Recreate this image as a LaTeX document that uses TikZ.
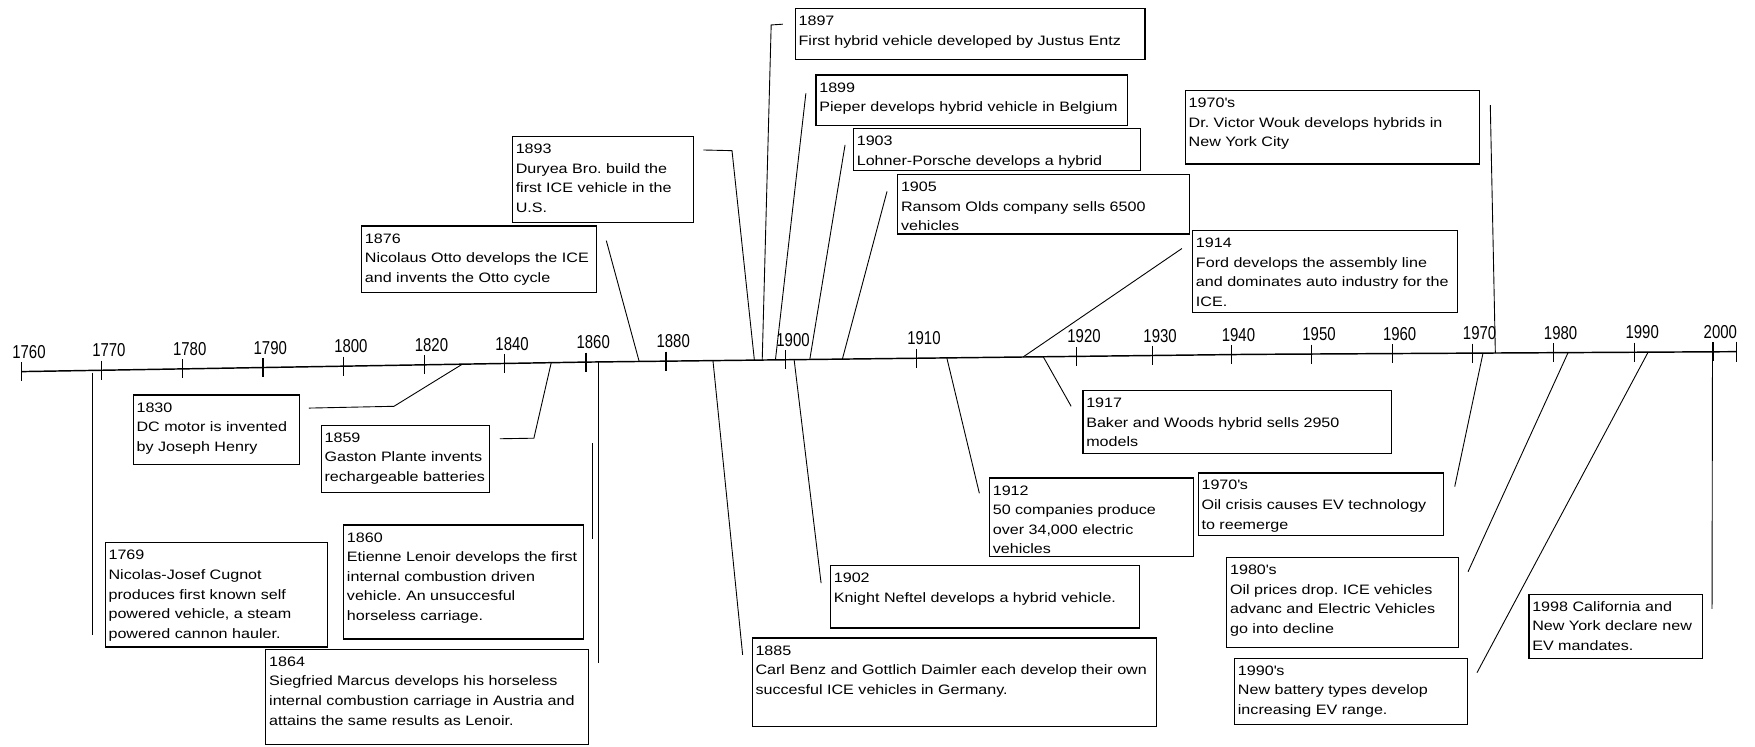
\documentclass[tikz,border=0pt]{standalone}
\usepackage{fontspec}
\setmainfont{Liberation Sans}[FakeStretch=1.18]
\newfontfamily\axisfamily{Liberation Sans}[FakeStretch=0.8]
\frenchspacing
\newcommand{\evfont}{\fontsize{12.2}{17.5}\selectfont}
\newcommand{\yrfont}{\axisfamily\fontsize{16.7}{18}\selectfont}
% box text: #1 = box width, #2 = box height, #3 = lines
\newcommand{\evtext}[3]{%
  \parbox[t][\dimexpr#2pt-6pt\relax][t]{\dimexpr#1pt-6pt\relax}{%
    \evfont\frenchspacing\begin{tabular}[t]{@{}l@{}}#3\end{tabular}}}
\tikzset{
  evbox/.style={
    draw=black, line width=1.1pt, anchor=north west,
    inner xsep=3pt, inner ysep=3pt, outer sep=0pt,
    font=\evfont
  },
  axisline/.style={draw=black, line width=1.3pt},
  tickline/.style={draw=black, line width=1pt},
  link/.style={draw=black, line width=0.8pt},
  yearlabel/.style={anchor=base, inner sep=0pt, font=\yrfont},
}

\begin{document}
\begin{tikzpicture}[x=1pt, y=-1pt]

  \useasboundingbox (0,0) rectangle (1568,667);
  \fill[white] (0,0) rectangle (1568,667);

  %% Time axis
  \draw[axisline] (19.4,332) -- (523.5,323.5) -- (1117,316.6) -- (1551.5,314.2);
  \foreach \tx/\ty/\yr in {19.4/332/1760, 90.8/330.8/1770, 163/329.6/1780,
      235/328.4/1790, 307/327.1/1800, 379/325.9/1820, 451/324.7/1840,
      523.5/323.5/1860, 595/322.7/1880, 702/321.4/1900, 819/320.1/1910,
      962/318.4/1920, 1030/317.6/1930, 1100/316.8/1940, 1172/316.3/1950,
      1244/315.9/1960, 1315.4/315.5/1970, 1387.8/315.1/1980,
      1460.7/314.7/1990, 1530.5/314.3/2000}{
    \draw[tickline] (\tx,\ty-8.5) -- (\tx,\ty+8.5);
    \node[yearlabel] (yr\yr) at (\tx+6.5,\ty-12) {\yr};
  }
  \draw[tickline] (1551.5,305.2) -- (1551.5,323.2);

  %% Events above the axis
  \node[evbox] (b1876) at (323,202)
    {\evtext{210}{59.5}{1876\\Nicolaus Otto develops the ICE\\and invents the Otto cycle}};
  \node[evbox] (b1893) at (457.8,122)
    {\evtext{161.7}{76.5}{1893\\Duryea Bro. build the\\first ICE vehicle in the\\U.S.}};
  \node[evbox] (b1897) at (710.5,7.5)
    {\evtext{312.5}{45.5}{1897\\First hybrid vehicle developed by Justus Entz}};
  \node[evbox] (b1899) at (729,67)
    {\evtext{278.5}{45}{1899\\Pieper develops hybrid vehicle in Belgium}};
  \node[evbox] (b1903) at (762.5,115)
    {\evtext{256.5}{37}{1903\\Lohner-Porsche develops a hybrid}};
  \node[evbox] (b1905) at (802,156)
    {\evtext{260.5}{53}{1905\\Ransom Olds company sells 6500\\vehicles}};
  \node[evbox] (b1914) at (1065.5,206)
    {\evtext{237}{73.5}{1914\\Ford develops the assembly line\\and dominates auto industry for the\\ICE.}};
  \node[evbox] (bwouk) at (1059,81)
    {\evtext{262.5}{65.5}{1970\textquotesingle s\\Dr. Victor Wouk develops hybrids in\\New York City}};

  %% Events below the axis
  \node[evbox] (b1769) at (94,485)
    {\evtext{198.5}{93}{1769\\Nicolas-Josef Cugnot\\produces first known self\\powered vehicle, a steam\\powered cannon hauler.}};
  \node[evbox] (b1830) at (119,353)
    {\evtext{148.5}{62}{1830\\DC motor is invented\\by Joseph Henry}};
  \node[evbox] (b1859) at (287,380)
    {\evtext{150.5}{60}{1859\\Gaston Plante invents\\rechargeable batteries}};
  \node[evbox] (b1860) at (307,469)
    {\evtext{214}{102}{1860\\Etienne Lenoir develops the first\\internal combustion driven\\vehicle. An unsuccesful\\horseless carriage.}};
  \node[evbox] (b1864) at (237.5,580)
    {\evtext{288.5}{85.5}{1864\\Siegfried Marcus develops his horseless\\internal combustion carriage in Austria and\\attains the same results as Lenoir.}};
  \node[evbox] (b1885) at (672,570)
    {\evtext{361}{79}{1885\\Carl Benz and Gottlich Daimler each develop their own\\succesful ICE vehicles in Germany.}};
  \node[evbox] (b1902) at (742,505.5)
    {\evtext{276}{55.5}{1902\\Knight Neftel develops a hybrid vehicle.}};
  \node[evbox] (b1912) at (884,427)
    {\evtext{182}{70}{1912\\50 companies produce\\over 34,000 electric\\vehicles}};
  \node[evbox] (b1917) at (967.5,349)
    {\evtext{276}{56}{1917\\Baker and Woods hybrid sells 2950\\models}};
  \node[evbox] (boil) at (1070.5,422.5)
    {\evtext{219.5}{56}{1970\textquotesingle s\\Oil crisis causes EV technology\\to reemerge}};
  \node[evbox] (b1980) at (1096,498)
    {\evtext{207}{80.5}{1980\textquotesingle s\\Oil prices drop. ICE vehicles\\advanc and Electric Vehicles\\go into decline}};
  \node[evbox] (b1990) at (1103,588)
    {\evtext{208}{59}{1990\textquotesingle s\\New battery types develop\\increasing EV range.}};
  \node[evbox] (b1998) at (1366,531)
    {\evtext{155}{57.5}{1998 California and\\New York declare new\\EV mandates.}};

  %% Connector ends
  \coordinate (a1769) at (82.5,333);   \coordinate (e1769) at (82.5,567);
  \coordinate (a1830) at (413,325.4);  \coordinate (k1830) at (352,363);
  \coordinate (e1830) at (276,364.6);
  \coordinate (a1859) at (492.5,324);  \coordinate (k1859) at (477,391.5);
  \coordinate (e1859) at (446.5,392);
  \coordinate (a1860) at (529,396);    \coordinate (e1860) at (529,482);
  \coordinate (a1864) at (534.5,323.4); \coordinate (e1864) at (534.5,592.5);
  \coordinate (a1876) at (571,322.7);  \coordinate (e1876) at (541.7,215);
  \coordinate (a1885) at (637,322.2);  \coordinate (e1885) at (663.5,585);
  \coordinate (a1893) at (674,321.8);  \coordinate (k1893) at (654,134.6);
  \coordinate (e1893) at (628.4,134);
  \coordinate (a1897) at (681,321.6);  \coordinate (k1897) at (689,22.3);
  \coordinate (e1897) at (699.5,21.6);
  \coordinate (a1899) at (692.8,321.5); \coordinate (e1899) at (720,83.4);
  \coordinate (a1902) at (709.5,321.3); \coordinate (e1902) at (733.6,521);
  \coordinate (a1903) at (723.5,321.2); \coordinate (e1903) at (755,129.5);
  \coordinate (a1905) at (752.6,320.9); \coordinate (e1905) at (792.5,171);
  \coordinate (a1912) at (846,320);    \coordinate (e1912) at (875,440.7);
  \coordinate (a1914) at (914,319);    \coordinate (e1914) at (1056,222);
  \coordinate (a1917) at (932,318.6);  \coordinate (e1917) at (957,363);
  \coordinate (awouk) at (1336,315.4); \coordinate (ewouk) at (1331.5,94);
  \coordinate (aoil) at (1325,315.4);  \coordinate (eoil) at (1299.7,434.8);
  \coordinate (a1980) at (1401,315);   \coordinate (e1980) at (1311.6,510.8);
  \coordinate (a1990) at (1472.5,314.6); \coordinate (e1990) at (1319.6,601);
  \coordinate (a1998) at (1530,314.3); \coordinate (e1998) at (1529.6,544);

  %% Connectors
  \draw[link] (a1769) -- (e1769);
  \draw[link] (a1830) -- (k1830) -- (e1830);
  \draw[link] (a1859) -- (k1859) -- (e1859);
  \draw[link] (a1860) -- (e1860);
  \draw[link] (a1864) -- (e1864);
  \draw[link] (a1876) -- (e1876);
  \draw[link] (a1885) -- (e1885);
  \draw[link] (a1893) -- (k1893) -- (e1893);
  \draw[link] (a1897) -- (k1897) -- (e1897);
  \draw[link] (a1899) -- (e1899);
  \draw[link] (a1902) -- (e1902);
  \draw[link] (a1903) -- (e1903);
  \draw[link] (a1905) -- (e1905);
  \draw[link] (a1912) -- (e1912);
  \draw[link] (a1914) -- (e1914);
  \draw[link] (a1917) -- (e1917);
  \draw[link] (awouk) -- (ewouk);
  \draw[link] (aoil) -- (eoil);
  \draw[link] (a1980) -- (e1980);
  \draw[link] (a1990) -- (e1990);
  \draw[link] (a1998) -- (e1998);

\end{tikzpicture}
\end{document}
